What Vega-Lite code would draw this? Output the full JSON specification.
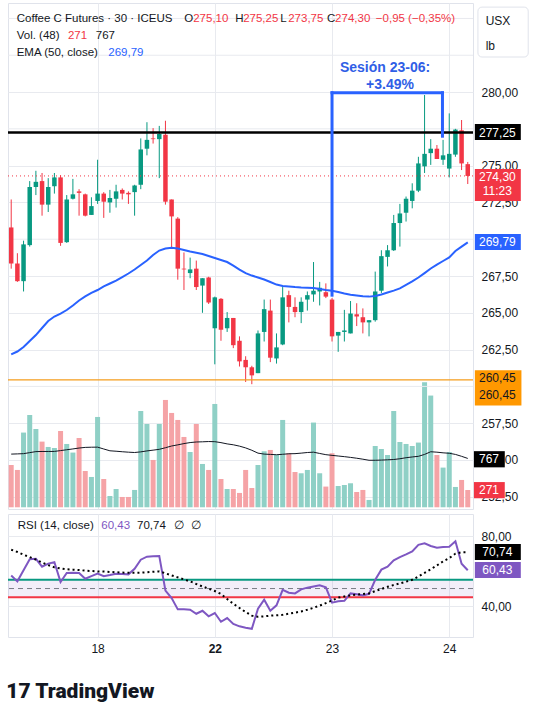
{
  "$schema": "https://vega.github.io/schema/vega-lite/v6.json",
  "padding": {"left": 6, "top": 2, "right": 0, "bottom": 0},
  "config": {
    "font": "Liberation Sans",
    "view": {"stroke": "#e0e3eb"},
    "concat": {"spacing": 3},
    "text": {"fontSize": 11.5, "baseline": "middle", "align": "left", "color": "#131722"}
  },
  "title": {"text": "17 TradingView", "orient": "bottom", "anchor": "start", "font": "Roboto", "fontSize": 21, "fontWeight": 900, "color": "#131722", "offset": 26},
  "datasets": {
    "k": [
      {"i":0,"o":270.80,"h":272.70,"l":268.00,"c":268.35,"v":664,"ema":262.17,"vma":835,"rsi":57.5,"rma":72.2},
      {"i":1,"o":268.35,"h":269.05,"l":267.10,"c":267.15,"v":586,"ema":262.37,"vma":838,"rsi":54.1,"rma":70.9},
      {"i":2,"o":267.15,"h":269.90,"l":266.45,"c":269.65,"v":1173,"ema":262.68,"vma":842,"rsi":60.4,"rma":69.3},
      {"i":3,"o":269.60,"h":273.95,"l":269.50,"c":273.55,"v":1449,"ema":263.08,"vma":858,"rsi":66.7,"rma":68.0},
      {"i":4,"o":273.55,"h":274.65,"l":273.00,"c":273.90,"v":1229,"ema":263.49,"vma":874,"rsi":67.0,"rma":66.5},
      {"i":5,"o":273.95,"h":274.50,"l":271.60,"c":272.35,"v":1031,"ema":263.97,"vma":876,"rsi":62.5,"rma":64.9},
      {"i":6,"o":272.35,"h":274.15,"l":271.85,"c":273.55,"v":947,"ema":264.44,"vma":876,"rsi":64.2,"rma":63.4},
      {"i":7,"o":273.60,"h":274.50,"l":273.10,"c":274.20,"v":931,"ema":264.75,"vma":877,"rsi":65.1,"rma":62.1},
      {"i":8,"o":274.20,"h":274.35,"l":269.55,"c":269.75,"v":1198,"ema":264.95,"vma":890,"rsi":53.7,"rma":61.5},
      {"i":9,"o":269.80,"h":273.00,"l":269.75,"c":272.70,"v":994,"ema":265.19,"vma":903,"rsi":58.9,"rma":61.0},
      {"i":10,"o":272.75,"h":274.10,"l":272.70,"c":273.05,"v":859,"ema":265.50,"vma":916,"rsi":59.0,"rma":60.8},
      {"i":11,"o":273.25,"h":273.40,"l":271.60,"c":273.15,"v":1088,"ema":265.84,"vma":930,"rsi":58.9,"rma":60.6},
      {"i":12,"o":273.05,"h":273.10,"l":271.55,"c":271.60,"v":570,"ema":266.11,"vma":940,"rsi":55.6,"rma":60.2},
      {"i":13,"o":271.65,"h":272.85,"l":271.65,"c":272.25,"v":476,"ema":266.35,"vma":943,"rsi":57.1,"rma":60.0},
      {"i":14,"o":272.60,"h":275.40,"l":272.40,"c":273.10,"v":1418,"ema":266.55,"vma":944,"rsi":58.5,"rma":59.8},
      {"i":15,"o":273.10,"h":273.20,"l":271.45,"c":272.55,"v":444,"ema":266.79,"vma":915,"rsi":57.0,"rma":59.7},
      {"i":16,"o":272.50,"h":273.35,"l":271.80,"c":272.80,"v":177,"ema":266.99,"vma":887,"rsi":57.7,"rma":59.5},
      {"i":17,"o":272.75,"h":273.70,"l":272.15,"c":273.25,"v":287,"ema":267.19,"vma":880,"rsi":58.5,"rma":59.3},
      {"i":18,"o":273.35,"h":273.45,"l":272.70,"c":273.10,"v":162,"ema":267.43,"vma":872,"rsi":58.3,"rma":59.1},
      {"i":19,"o":273.15,"h":273.25,"l":272.40,"c":273.05,"v":162,"ema":267.67,"vma":865,"rsi":58.1,"rma":59.0},
      {"i":20,"o":273.20,"h":273.70,"l":271.60,"c":273.65,"v":272,"ema":267.94,"vma":860,"rsi":61.3,"rma":59.0},
      {"i":21,"o":273.70,"h":276.85,"l":273.40,"c":276.10,"v":1512,"ema":268.25,"vma":870,"rsi":66.5,"rma":59.1},
      {"i":22,"o":276.15,"h":277.95,"l":275.70,"c":276.75,"v":1308,"ema":268.55,"vma":885,"rsi":68.2,"rma":59.3},
      {"i":23,"o":276.85,"h":277.55,"l":276.50,"c":276.80,"v":743,"ema":268.93,"vma":897,"rsi":68.4,"rma":59.6},
      {"i":24,"o":276.80,"h":277.70,"l":274.15,"c":277.15,"v":1308,"ema":269.23,"vma":910,"rsi":68.6,"rma":59.8},
      {"i":25,"o":277.10,"h":278.05,"l":272.35,"c":272.55,"v":1685,"ema":269.37,"vma":935,"rsi":48.8,"rma":58.7},
      {"i":26,"o":272.70,"h":272.70,"l":269.40,"c":271.55,"v":1481,"ema":269.42,"vma":962,"rsi":44.6,"rma":57.5},
      {"i":27,"o":271.40,"h":271.50,"l":267.25,"c":268.00,"v":1371,"ema":269.37,"vma":980,"rsi":38.1,"rma":56.4},
      {"i":28,"o":268.00,"h":269.10,"l":266.55,"c":267.95,"v":1104,"ema":269.27,"vma":1000,"rsi":38.1,"rma":55.2},
      {"i":29,"o":267.70,"h":268.75,"l":267.35,"c":267.95,"v":868,"ema":269.16,"vma":1016,"rsi":37.9,"rma":54.1},
      {"i":30,"o":268.00,"h":268.55,"l":266.55,"c":266.75,"v":1308,"ema":269.08,"vma":1025,"rsi":35.6,"rma":52.6},
      {"i":31,"o":266.85,"h":267.35,"l":265.00,"c":267.35,"v":680,"ema":269.00,"vma":1028,"rsi":37.3,"rma":51.2},
      {"i":32,"o":267.40,"h":267.45,"l":265.60,"c":265.70,"v":586,"ema":268.86,"vma":1032,"rsi":34.1,"rma":49.9},
      {"i":33,"o":263.95,"h":266.10,"l":261.50,"c":266.05,"v":1622,"ema":268.72,"vma":1030,"rsi":36.0,"rma":48.6},
      {"i":34,"o":265.95,"h":266.00,"l":263.10,"c":263.85,"v":444,"ema":268.59,"vma":1015,"rsi":31.0,"rma":46.9},
      {"i":35,"o":263.95,"h":265.05,"l":263.70,"c":264.65,"v":287,"ema":268.45,"vma":995,"rsi":33.1,"rma":44.0},
      {"i":36,"o":264.65,"h":264.65,"l":262.60,"c":262.80,"v":287,"ema":268.21,"vma":981,"rsi":29.8,"rma":41.3},
      {"i":37,"o":263.10,"h":263.40,"l":261.35,"c":261.70,"v":225,"ema":267.94,"vma":960,"rsi":28.4,"rma":38.9},
      {"i":38,"o":261.80,"h":262.05,"l":260.30,"c":261.30,"v":586,"ema":267.70,"vma":932,"rsi":27.6,"rma":36.6},
      {"i":39,"o":261.30,"h":261.40,"l":260.15,"c":260.75,"v":303,"ema":267.53,"vma":895,"rsi":27.0,"rma":34.5},
      {"i":40,"o":260.90,"h":263.80,"l":260.90,"c":263.60,"v":664,"ema":267.40,"vma":850,"rsi":38.5,"rma":33.9},
      {"i":41,"o":263.70,"h":265.90,"l":263.05,"c":265.25,"v":879,"ema":267.26,"vma":835,"rsi":43.6,"rma":34.1},
      {"i":42,"o":265.15,"h":265.90,"l":261.65,"c":261.95,"v":900,"ema":267.09,"vma":830,"rsi":37.3,"rma":34.5},
      {"i":43,"o":261.90,"h":263.60,"l":261.55,"c":262.65,"v":821,"ema":266.92,"vma":825,"rsi":40.4,"rma":34.7},
      {"i":44,"o":262.85,"h":266.75,"l":262.80,"c":266.05,"v":1371,"ema":266.82,"vma":832,"rsi":49.3,"rma":35.0},
      {"i":45,"o":266.20,"h":266.50,"l":264.35,"c":265.40,"v":848,"ema":266.79,"vma":840,"rsi":47.6,"rma":35.6},
      {"i":46,"o":265.40,"h":266.05,"l":264.70,"c":265.05,"v":554,"ema":266.75,"vma":842,"rsi":47.2,"rma":36.2},
      {"i":47,"o":265.05,"h":266.05,"l":264.30,"c":265.75,"v":534,"ema":266.72,"vma":850,"rsi":49.5,"rma":36.9},
      {"i":48,"o":265.90,"h":266.45,"l":265.15,"c":266.20,"v":586,"ema":266.70,"vma":860,"rsi":50.5,"rma":37.9},
      {"i":49,"o":266.25,"h":268.45,"l":265.75,"c":266.50,"v":1330,"ema":266.68,"vma":865,"rsi":51.2,"rma":39.0},
      {"i":50,"o":266.45,"h":267.10,"l":265.50,"c":266.70,"v":534,"ema":266.62,"vma":845,"rsi":51.8,"rma":40.2},
      {"i":51,"o":266.40,"h":267.00,"l":266.00,"c":266.10,"v":325,"ema":266.55,"vma":826,"rsi":50.7,"rma":41.7},
      {"i":52,"o":265.90,"h":266.00,"l":263.05,"c":263.40,"v":848,"ema":266.50,"vma":815,"rsi":41.9,"rma":43.2},
      {"i":53,"o":263.45,"h":263.70,"l":262.35,"c":263.70,"v":334,"ema":266.41,"vma":805,"rsi":42.7,"rma":44.8},
      {"i":54,"o":263.70,"h":265.20,"l":263.05,"c":263.80,"v":350,"ema":266.31,"vma":795,"rsi":43.0,"rma":45.5},
      {"i":55,"o":263.60,"h":265.80,"l":263.60,"c":264.95,"v":377,"ema":266.23,"vma":783,"rsi":47.2,"rma":46.1},
      {"i":56,"o":264.90,"h":265.65,"l":264.10,"c":264.75,"v":240,"ema":266.18,"vma":770,"rsi":46.7,"rma":46.5},
      {"i":57,"o":264.70,"h":265.30,"l":263.60,"c":264.35,"v":272,"ema":266.12,"vma":755,"rsi":46.1,"rma":46.9},
      {"i":58,"o":264.35,"h":264.50,"l":263.40,"c":264.50,"v":115,"ema":266.10,"vma":738,"rsi":47.0,"rma":47.2},
      {"i":59,"o":264.50,"h":267.80,"l":264.40,"c":266.45,"v":962,"ema":266.14,"vma":738,"rsi":55.0,"rma":48.6},
      {"i":60,"o":266.50,"h":269.25,"l":266.35,"c":268.85,"v":915,"ema":266.24,"vma":741,"rsi":60.8,"rma":49.7},
      {"i":61,"o":268.80,"h":269.60,"l":268.15,"c":269.25,"v":821,"ema":266.38,"vma":745,"rsi":62.5,"rma":51.0},
      {"i":62,"o":269.25,"h":271.65,"l":269.20,"c":271.10,"v":1512,"ema":266.51,"vma":750,"rsi":66.1,"rma":52.0},
      {"i":63,"o":271.10,"h":272.40,"l":269.50,"c":271.75,"v":1025,"ema":266.66,"vma":762,"rsi":68.0,"rma":52.9},
      {"i":64,"o":271.80,"h":272.90,"l":271.20,"c":272.75,"v":994,"ema":266.89,"vma":778,"rsi":69.5,"rma":53.9},
      {"i":65,"o":272.60,"h":273.80,"l":272.10,"c":273.30,"v":962,"ema":267.13,"vma":790,"rsi":71.2,"rma":55.0},
      {"i":66,"o":273.30,"h":275.60,"l":273.20,"c":275.15,"v":1016,"ema":267.40,"vma":800,"rsi":75.0,"rma":56.9},
      {"i":67,"o":274.95,"h":279.80,"l":274.50,"c":275.80,"v":1963,"ema":267.70,"vma":830,"rsi":75.8,"rma":59.0},
      {"i":68,"o":275.85,"h":276.80,"l":275.05,"c":276.15,"v":1754,"ema":268.01,"vma":872,"rsi":74.3,"rma":61.0},
      {"i":69,"o":276.15,"h":276.40,"l":275.45,"c":275.45,"v":821,"ema":268.28,"vma":865,"rsi":73.3,"rma":63.2},
      {"i":70,"o":275.40,"h":276.75,"l":275.05,"c":275.70,"v":623,"ema":268.52,"vma":855,"rsi":73.7,"rma":65.5},
      {"i":71,"o":274.80,"h":278.55,"l":274.20,"c":275.80,"v":868,"ema":268.76,"vma":848,"rsi":73.9,"rma":67.4},
      {"i":72,"o":275.75,"h":277.50,"l":275.60,"c":277.45,"v":319,"ema":269.20,"vma":830,"rsi":77.0,"rma":69.9},
      {"i":73,"o":277.40,"h":278.10,"l":274.70,"c":275.15,"v":429,"ema":269.50,"vma":800,"rsi":64.2,"rma":70.7},
      {"i":74,"o":275.10,"h":275.25,"l":273.75,"c":274.30,"v":271,"ema":269.79,"vma":767,"rsi":60.43,"rma":70.74}
    ]
  },
  "data": {"name": "k"},
  "vconcat": [
    {
      "width": 465,
      "height": 506,
      "layer": [
        {
          "layer": [
            {
              "mark": {"type": "bar", "width": 5},
              "encoding": {
                "x": {"field": "i", "type": "quantitative", "scale": {"domain": [-0.52, 74.85], "padding": 0}},
                "y": {"field": "v", "type": "quantitative", "scale": {"domain": [-27, 7917]}, "axis": null},
                "color": {"condition": {"test": "datum.c >= datum.o", "value": "#8fd0c6"}, "value": "#f5a3a6"}
              }
            },
            {
              "mark": {"type": "line", "color": "#131722", "strokeWidth": 1},
              "encoding": {
                "x": {"field": "i", "type": "quantitative", "scale": {"domain": [-0.52, 74.85], "padding": 0}},
                "y": {"field": "vma", "type": "quantitative", "scale": {"domain": [-27, 7917]}, "axis": null}
              }
            }
          ]
        },
        {
          "layer": [
            {
              "data": {"values": [{"g": 260}, {"g": 270}, {"g": 277.5}, {"g": 282.5}, {"g": 285}]},
              "mark": {"type": "rule", "color": "#e8eaef", "strokeWidth": 1},
              "encoding": {"y": {"field": "g", "type": "quantitative", "scale": {"domain": [251.67, 286.05]}}}
            },
            {
              "mark": {"type": "rule", "strokeWidth": 1},
              "encoding": {
                "x": {"field": "i", "type": "quantitative", "scale": {"domain": [-0.52, 74.85], "padding": 0},
                  "axis": {"values": [14, 33, 52, 71], "grid": true, "gridColor": "#e8eaef", "labels": false, "ticks": false, "domain": false, "title": null}},
                "y": {"field": "l", "type": "quantitative", "scale": {"domain": [251.67, 286.05]},
                  "axis": {"orient": "right", "values": [252.5, 255, 257.5, 262.5, 265, 267.5, 272.5, 275, 280], "grid": true, "gridColor": "#e8eaef", "ticks": false, "domain": false, "title": null, "labelPadding": 8, "labelFontSize": 12, "labelColor": "#131722", "labelOverlap": false,
                    "labelExpr": "replace(format(datum.value, '.2f'), '.', ',')"}},
                "y2": {"field": "h"},
                "color": {"condition": {"test": "datum.c >= datum.o", "value": "#089981"}, "value": "#f23645"}
              }
            },
            {
              "mark": {"type": "bar", "width": 4.5},
              "encoding": {
                "x": {"field": "i", "type": "quantitative", "scale": {"domain": [-0.52, 74.85], "padding": 0}},
                "y": {"field": "o", "type": "quantitative", "scale": {"domain": [251.67, 286.05]}},
                "y2": {"field": "c"},
                "color": {"condition": {"test": "datum.c >= datum.o", "value": "#089981"}, "value": "#f23645"}
              }
            },
            {
              "mark": {"type": "line", "color": "#2962ff", "strokeWidth": 2},
              "encoding": {
                "x": {"field": "i", "type": "quantitative", "scale": {"domain": [-0.52, 74.85], "padding": 0}},
                "y": {"field": "ema", "type": "quantitative", "scale": {"domain": [251.67, 286.05]}}
              }
            },
            {
              "data": {"values": [{}]},
              "mark": {"type": "rule", "color": "#000000", "strokeWidth": 2.5},
              "encoding": {"y": {"datum": 277.25, "scale": {"domain": [251.67, 286.05]}}}
            },
            {
              "data": {"values": [{}]},
              "mark": {"type": "rule", "color": "#f23645", "strokeWidth": 1, "strokeDash": [1, 3]},
              "encoding": {"y": {"datum": 274.30, "scale": {"domain": [251.67, 286.05]}}}
            },
            {
              "data": {"values": [{}]},
              "mark": {"type": "rule", "color": "#f59d1c", "strokeWidth": 1.2},
              "encoding": {"y": {"datum": 260.45, "scale": {"domain": [251.67, 286.05]}}}
            },
            {
              "data": {"values": [{}]},
              "mark": {"type": "rule", "color": "#2962ff", "strokeWidth": 3, "strokeCap": "square"},
              "encoding": {"x": {"datum": 52.0, "scale": {"domain": [-0.52, 74.85], "padding": 0}}, "y": {"datum": 266.2, "scale": {"domain": [251.67, 286.05]}}, "y2": {"datum": 279.95}}
            },
            {
              "data": {"values": [{}]},
              "mark": {"type": "rule", "color": "#2962ff", "strokeWidth": 3, "strokeCap": "square"},
              "encoding": {"x": {"datum": 52.0, "scale": {"domain": [-0.52, 74.85], "padding": 0}}, "x2": {"datum": 69.9}, "y": {"datum": 279.95, "scale": {"domain": [251.67, 286.05]}}}
            },
            {
              "data": {"values": [{}]},
              "mark": {"type": "rule", "color": "#2962ff", "strokeWidth": 3, "strokeCap": "square"},
              "encoding": {"x": {"datum": 69.9, "scale": {"domain": [-0.52, 74.85], "padding": 0}}, "y": {"datum": 277.0, "scale": {"domain": [251.67, 286.05]}}, "y2": {"datum": 279.95}}
            },
            {
              "data": {"values": [
                {"t": "Sesión 23-06:", "tx": 60.6, "ty": 281.63},
                {"t": "+3.49%", "tx": 61.4, "ty": 280.5}
              ]},
              "mark": {"type": "text", "align": "center", "fontSize": 14, "fontWeight": "bold", "color": "#2f5ee6"},
              "encoding": {
                "x": {"field": "tx", "type": "quantitative", "scale": {"domain": [-0.52, 74.85], "padding": 0}},
                "y": {"field": "ty", "type": "quantitative", "scale": {"domain": [251.67, 286.05]}},
                "text": {"field": "t"}
              }
            },
            {
              "data": {"values": [
                {"t": "Coffee C Futures · 30 · ICEUS", "tx": 0.89, "ty": 284.96, "col": "k"},
                {"t": "O", "tx": 28.05, "ty": 284.96, "col": "k"},
                {"t": "275,10", "tx": 29.5, "ty": 284.96, "col": "r"},
                {"t": "H", "tx": 36.3, "ty": 284.96, "col": "k"},
                {"t": "275,25", "tx": 37.6, "ty": 284.96, "col": "r"},
                {"t": "L", "tx": 43.6, "ty": 284.96, "col": "k"},
                {"t": "273,75", "tx": 44.9, "ty": 284.96, "col": "r"},
                {"t": "C", "tx": 51.2, "ty": 284.96, "col": "k"},
                {"t": "274,30", "tx": 52.5, "ty": 284.96, "col": "r"},
                {"t": "−0,95 (−0,35%)", "tx": 59.1, "ty": 284.96, "col": "r"},
                {"t": "Vol. (48)", "tx": 0.89, "ty": 283.8, "col": "k"},
                {"t": "271", "tx": 9.2, "ty": 283.8, "col": "r"},
                {"t": "767", "tx": 13.7, "ty": 283.8, "col": "k"},
                {"t": "EMA (50, close)", "tx": 0.89, "ty": 282.65, "col": "k"},
                {"t": "269,79", "tx": 15.74, "ty": 282.65, "col": "b"}
              ]},
              "mark": {"type": "text"},
              "encoding": {
                "x": {"field": "tx", "type": "quantitative", "scale": {"domain": [-0.52, 74.85], "padding": 0}},
                "y": {"field": "ty", "type": "quantitative", "scale": {"domain": [251.67, 286.05]}},
                "text": {"field": "t"},
                "color": {"field": "col", "type": "nominal", "scale": {"domain": ["k", "r", "b"], "range": ["#131722", "#f23645", "#2962ff"]}, "legend": null}
              }
            },
            {
              "data": {"values": [
                {"x1": 75.65, "x2": 83.8, "y1": 285.77, "y2": 282.38}
              ]},
              "mark": {"type": "rect", "color": "#ffffff", "stroke": "#e0e3eb", "strokeWidth": 1, "cornerRadius": 4},
              "encoding": {
                "x": {"field": "x1", "type": "quantitative", "scale": {"domain": [-0.52, 74.85], "padding": 0}},
                "x2": {"field": "x2"},
                "y": {"field": "y1", "type": "quantitative", "scale": {"domain": [251.67, 286.05]}},
                "y2": {"field": "y2"}
              }
            },
            {
              "data": {"values": [
                {"x1": 75.15, "x2": 82.6, "y1": 277.83, "y2": 276.74, "f": "k"},
                {"x1": 75.15, "x2": 82.6, "y1": 274.77, "y2": 272.6, "f": "r"},
                {"x1": 75.15, "x2": 82.6, "y1": 270.35, "y2": 269.27, "f": "b"},
                {"x1": 75.15, "x2": 82.7, "y1": 261.1, "y2": 258.7, "f": "o"},
                {"x1": 75.0, "x2": 80.0, "y1": 255.6, "y2": 254.5, "f": "k"},
                {"x1": 75.0, "x2": 80.0, "y1": 253.5, "y2": 252.4, "f": "r"}
              ]},
              "mark": {"type": "rect"},
              "encoding": {
                "x": {"field": "x1", "type": "quantitative", "scale": {"domain": [-0.52, 74.85], "padding": 0}},
                "x2": {"field": "x2"},
                "y": {"field": "y1", "type": "quantitative", "scale": {"domain": [251.67, 286.05]}},
                "y2": {"field": "y2"},
                "color": {"field": "f", "type": "nominal", "scale": {"domain": ["k", "r", "b", "o"], "range": ["#000000", "#f23645", "#2962ff", "#ff9800"]}, "legend": null}
              }
            },
            {
              "data": {"values": [
                {"t": "USX", "tx": 76.9, "ty": 284.82},
                {"t": "lb", "tx": 76.9, "ty": 283.12}
              ]},
              "mark": {"type": "text", "fontSize": 12},
              "encoding": {
                "x": {"field": "tx", "type": "quantitative", "scale": {"domain": [-0.52, 74.85], "padding": 0}},
                "y": {"field": "ty", "type": "quantitative", "scale": {"domain": [251.67, 286.05]}},
                "text": {"field": "t"}
              }
            },
            {
              "data": {"values": [
                {"t": "277,25", "tx": 78.8, "ty": 277.25, "col": "w"},
                {"t": "274,30", "tx": 78.8, "ty": 274.23, "col": "w"},
                {"t": "11:23", "tx": 78.8, "ty": 273.27, "col": "w"},
                {"t": "269,79", "tx": 78.8, "ty": 269.79, "col": "w"},
                {"t": "260,45", "tx": 78.8, "ty": 260.57, "col": "k"},
                {"t": "260,45", "tx": 78.8, "ty": 259.42, "col": "k"},
                {"t": "767", "tx": 77.45, "ty": 255.07, "col": "w"},
                {"t": "271", "tx": 77.45, "ty": 252.96, "col": "w"}
              ]},
              "mark": {"type": "text", "align": "center", "fontSize": 12},
              "encoding": {
                "x": {"field": "tx", "type": "quantitative", "scale": {"domain": [-0.52, 74.85], "padding": 0}},
                "y": {"field": "ty", "type": "quantitative", "scale": {"domain": [251.67, 286.05]}},
                "text": {"field": "t"},
                "color": {"field": "col", "type": "nominal", "scale": {"domain": ["k", "w"], "range": ["#131722", "#ffffff"]}, "legend": null}
              }
            }
          ],
          "resolve": {"scale": {"color": "independent"}}
        }
      ],
      "resolve": {"scale": {"y": "independent", "color": "independent"}, "axis": {"y": "independent"}}
    },
    {
      "width": 465,
      "height": 123,
      "layer": [
        {
          "data": {"values": [{}]},
          "mark": {"type": "rect", "color": "#7e57c2", "opacity": 0.1},
          "encoding": {
            "x": {"datum": -0.52, "scale": {"domain": [-0.52, 74.85], "padding": 0}},
            "x2": {"datum": 74.85},
            "y": {"datum": 45, "scale": {"domain": [22.3, 92.6]}},
            "y2": {"datum": 55}
          }
        },
        {
          "data": {"values": [{}]},
          "mark": {"type": "rule", "color": "#089981", "strokeWidth": 2},
          "encoding": {"y": {"datum": 55, "scale": {"domain": [22.3, 92.6]}}}
        },
        {
          "data": {"values": [{}]},
          "mark": {"type": "rule", "color": "#787b86", "strokeWidth": 1, "strokeDash": [5, 4]},
          "encoding": {"y": {"datum": 50, "scale": {"domain": [22.3, 92.6]}}}
        },
        {
          "data": {"values": [{}]},
          "mark": {"type": "rule", "color": "#f23645", "strokeWidth": 2},
          "encoding": {"y": {"datum": 45, "scale": {"domain": [22.3, 92.6]}}}
        },
        {
          "mark": {"type": "line", "color": "#7e57c2", "strokeWidth": 2},
          "encoding": {
            "x": {"field": "i", "type": "quantitative", "scale": {"domain": [-0.52, 74.85], "padding": 0},
              "axis": {"values": [14, 33, 52, 71], "grid": true, "gridColor": "#e8eaef", "ticks": false, "domain": false, "title": null, "labelPadding": 6, "labelFontSize": 12, "labelColor": "#131722",
                "labelExpr": "datum.value == 14 ? '18' : datum.value == 33 ? '22' : datum.value == 52 ? '23' : '24'",
                "labelFontWeight": {"condition": {"test": "datum.value == 33", "value": "bold"}, "value": "normal"}}},
            "y": {"field": "rsi", "type": "quantitative", "scale": {"domain": [22.3, 92.6]},
              "axis": {"orient": "right", "values": [40, 80], "grid": true, "gridColor": "#e8eaef", "ticks": false, "domain": false, "title": null, "labelPadding": 8, "labelFontSize": 12, "labelColor": "#131722", "labelOverlap": false,
                "labelExpr": "replace(format(datum.value, '.2f'), '.', ',')"}}
          }
        },
        {
          "mark": {"type": "line", "color": "#000000", "strokeWidth": 2, "strokeDash": [2, 3]},
          "encoding": {
            "x": {"field": "i", "type": "quantitative", "scale": {"domain": [-0.52, 74.85], "padding": 0}},
            "y": {"field": "rma", "type": "quantitative", "scale": {"domain": [22.3, 92.6]}}
          }
        },
        {
          "data": {"values": [
            {"x1": 75.15, "x2": 82.6, "y1": 75.43, "y2": 66.29, "f": "k"},
            {"x1": 75.15, "x2": 82.6, "y1": 65.14, "y2": 56.0, "f": "p"}
          ]},
          "mark": {"type": "rect"},
          "encoding": {
            "x": {"field": "x1", "type": "quantitative", "scale": {"domain": [-0.52, 74.85], "padding": 0}},
            "x2": {"field": "x2"},
            "y": {"field": "y1", "type": "quantitative", "scale": {"domain": [22.3, 92.6]}},
            "y2": {"field": "y2"},
            "color": {"field": "f", "type": "nominal", "scale": {"domain": ["k", "p"], "range": ["#000000", "#7e57c2"]}, "legend": null}
          }
        },
        {
          "data": {"values": [
            {"t": "70,74", "tx": 78.8, "ty": 70.74},
            {"t": "60,43", "tx": 78.8, "ty": 60.43}
          ]},
          "mark": {"type": "text", "align": "center", "color": "#ffffff", "fontSize": 12},
          "encoding": {
            "x": {"field": "tx", "type": "quantitative", "scale": {"domain": [-0.52, 74.85], "padding": 0}},
            "y": {"field": "ty", "type": "quantitative", "scale": {"domain": [22.3, 92.6]}},
            "text": {"field": "t"}
          }
        },
        {
          "data": {"values": [
            {"t": "RSI (14, close)", "tx": 1.05, "ty": 85.5, "col": "k"},
            {"t": "60,43", "tx": 14.6, "ty": 85.5, "col": "p"},
            {"t": "70,74", "tx": 20.4, "ty": 85.5, "col": "k"},
            {"t": "∅", "tx": 26.4, "ty": 85.5, "col": "k"},
            {"t": "∅", "tx": 29.2, "ty": 85.5, "col": "k"}
          ]},
          "mark": {"type": "text"},
          "encoding": {
            "x": {"field": "tx", "type": "quantitative", "scale": {"domain": [-0.52, 74.85], "padding": 0}},
            "y": {"field": "ty", "type": "quantitative", "scale": {"domain": [22.3, 92.6]}},
            "text": {"field": "t"},
            "color": {"field": "col", "type": "nominal", "scale": {"domain": ["k", "p"], "range": ["#131722", "#7e57c2"]}, "legend": null}
          }
        }
      ],
      "resolve": {"scale": {"color": "independent"}}
    }
  ]
}
